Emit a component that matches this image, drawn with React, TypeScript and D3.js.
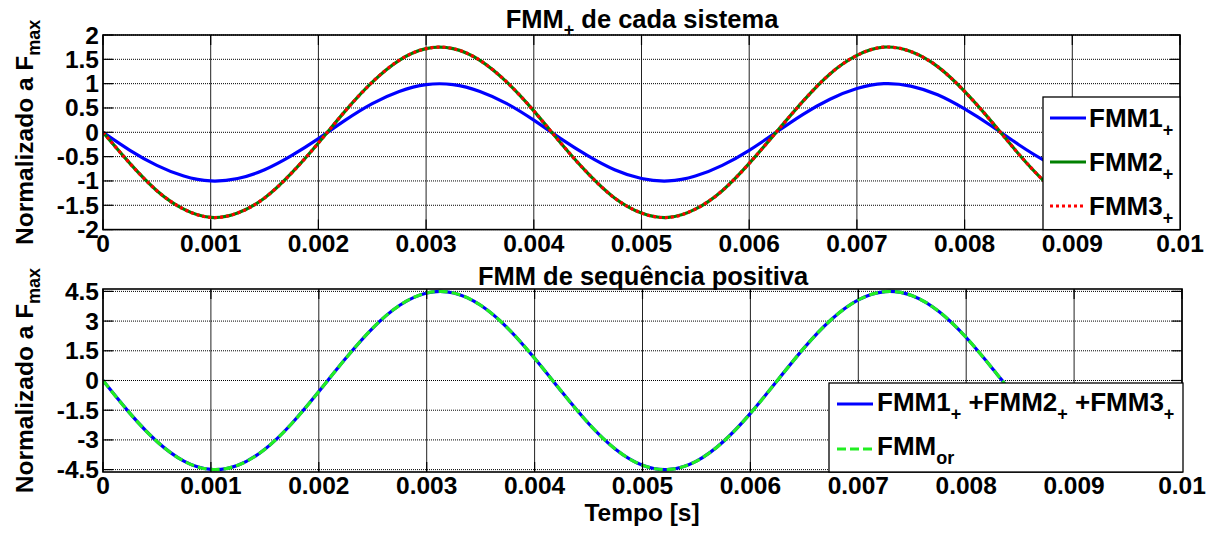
import React from "react";
import * as d3 from "d3";

// Sample instants (ms) and the normalised MMF waveforms
const TIME_MS = [0, 0.25, 0.5, 0.75, 1, 1.25, 1.5, 1.75, 2, 2.25, 2.5, 2.75, 3, 3.25, 3.5, 3.75, 4, 4.25, 4.5, 4.75, 5, 5.25, 5.5, 5.75, 6, 6.25, 6.5, 6.75, 7, 7.25, 7.5, 7.75, 8, 8.25, 8.5, 8.75, 9, 9.25, 9.5, 9.75, 10];
const FMM1 = [0, -0.37, -0.68, -0.9, -1.0, -0.95, -0.77, -0.48, -0.13, 0.25, 0.59, 0.84, 0.98, 0.98, 0.84, 0.59, 0.25, -0.13, -0.48, -0.77, -0.95, -1.0, -0.9, -0.68, -0.37, 0, 0.37, 0.68, 0.9, 1.0, 0.95, 0.77, 0.48, 0.13, -0.25, -0.59, -0.84, -0.98, -0.98, -0.84, -0.59];
const FMM2 = [0, -0.64, -1.2, -1.58, -1.75, -1.66, -1.35, -0.84, -0.22, 0.44, 1.03, 1.48, 1.72, 1.72, 1.48, 1.03, 0.44, -0.22, -0.84, -1.35, -1.66, -1.75, -1.58, -1.2, -0.64, 0, 0.64, 1.2, 1.58, 1.75, 1.66, 1.35, 0.84, 0.22, -0.44, -1.03, -1.48, -1.72, -1.72, -1.48, -1.03];
const FMM3 = [0, -0.64, -1.2, -1.58, -1.75, -1.66, -1.35, -0.84, -0.22, 0.44, 1.03, 1.48, 1.72, 1.72, 1.48, 1.03, 0.44, -0.22, -0.84, -1.35, -1.66, -1.75, -1.58, -1.2, -0.64, 0, 0.64, 1.2, 1.58, 1.75, 1.66, 1.35, 0.84, 0.22, -0.44, -1.03, -1.48, -1.72, -1.72, -1.48, -1.03];
const FMM_SUM = [0, -1.66, -3.08, -4.07, -4.49, -4.28, -3.47, -2.17, -0.56, 1.12, 2.65, 3.8, 4.42, 4.42, 3.8, 2.65, 1.12, -0.56, -2.17, -3.47, -4.28, -4.49, -4.07, -3.08, -1.66, 0, 1.66, 3.08, 4.07, 4.49, 4.28, 3.47, 2.17, 0.56, -1.12, -2.65, -3.8, -4.42, -4.42, -3.8, -2.65];
const FMM_OR = [0, -1.66, -3.08, -4.07, -4.49, -4.28, -3.47, -2.17, -0.56, 1.12, 2.65, 3.8, 4.42, 4.42, 3.8, 2.65, 1.12, -0.56, -2.17, -3.47, -4.28, -4.49, -4.07, -3.08, -1.66, 0, 1.66, 3.08, 4.07, 4.49, 4.28, 3.47, 2.17, 0.56, -1.12, -2.65, -3.8, -4.42, -4.42, -3.8, -2.65];

// Axis ticks
const X_TICKS = [0, 0.001, 0.002, 0.003, 0.004, 0.005, 0.006, 0.007, 0.008, 0.009, 0.01];
const X_LABELS = ["0", "0.001", "0.002", "0.003", "0.004", "0.005", "0.006", "0.007", "0.008", "0.009", "0.01"];
const Y_TICKS_TOP = [2, 1.5, 1, 0.5, 0, -0.5, -1, -1.5, -2];
const Y_LABELS_TOP = ["2", "1.5", "1", "0.5", "0", "-0.5", "-1", "-1.5", "-2"];
const Y_TICKS_BOT = [4.5, 3, 1.5, 0, -1.5, -3, -4.5];
const Y_LABELS_BOT = ["4.5", "3", "1.5", "0", "-1.5", "-3", "-4.5"];

const FONT = "'Liberation Sans', Arial, Helvetica, sans-serif";
const FS_TICK = 24.5;
const FS_LABEL = 24.5;
const FS_TITLE = 25.5;
const FS_LEG = 26;
const SUB = 18;

type Series = { values: number[]; color: string; width: number; dash?: string };

function Panel(props: {
  id: string;
  box: { x0: number; x1: number; y0: number; y1: number };
  yDomain: [number, number];
  yTicks: number[];
  yLabels: string[];
  series: Series[];
  children?: React.ReactNode;
}) {
  const { id, box, yDomain, yTicks, yLabels, series } = props;
  const x = d3.scaleLinear().domain([0, 0.01]).range([box.x0, box.x1]);
  const y = d3.scaleLinear().domain(yDomain).range([box.y1, box.y0]);
  const line = d3
    .line<number>()
    .x((_, i) => x(TIME_MS[i] / 1000))
    .y((v) => y(v))
    .curve(d3.curveNatural);
  const tl = 10;
  return (
    <g>
      <defs>
        <clipPath id={id}>
          <rect x={box.x0} y={box.y0} width={box.x1 - box.x0} height={box.y1 - box.y0} />
        </clipPath>
      </defs>
      <rect x={box.x0} y={box.y0} width={box.x1 - box.x0} height={box.y1 - box.y0} fill="#fff" />
      {/* grid */}
      {X_TICKS.map((t) => (
        <line key={"gx" + t} x1={x(t)} x2={x(t)} y1={box.y0} y2={box.y1} stroke="#222" strokeWidth={1} />
      ))}
      {yTicks.map((t) => (
        <line key={"gy" + t} x1={box.x0} x2={box.x1} y1={y(t)} y2={y(t)} stroke="#000" strokeWidth={1} strokeDasharray="1,1" />
      ))}
      {/* curves */}
      <g clipPath={`url(#${id})`}>
        {series.map((s, i) => (
          <path
            key={i}
            d={line(s.values) || ""}
            fill="none"
            stroke={s.color}
            strokeWidth={s.width}
            strokeDasharray={s.dash}
          />
        ))}
      </g>
      {/* ticks */}
      {X_TICKS.map((t) => (
        <g key={"tx" + t}>
          <line x1={x(t)} x2={x(t)} y1={box.y1} y2={box.y1 - tl} stroke="#000" strokeWidth={1.2} />
          <line x1={x(t)} x2={x(t)} y1={box.y0} y2={box.y0 + tl} stroke="#000" strokeWidth={1.2} />
        </g>
      ))}
      {yTicks.map((t) => (
        <g key={"ty" + t}>
          <line x1={box.x0} x2={box.x0 + tl} y1={y(t)} y2={y(t)} stroke="#000" strokeWidth={1.2} />
          <line x1={box.x1} x2={box.x1 - tl} y1={y(t)} y2={y(t)} stroke="#000" strokeWidth={1.2} />
        </g>
      ))}
      <rect x={box.x0} y={box.y0} width={box.x1 - box.x0} height={box.y1 - box.y0} fill="none" stroke="#000" strokeWidth={1.6} />
      {/* tick labels */}
      {X_TICKS.map((t, i) => (
        <text key={"lx" + t} x={x(t)} y={box.y1 + 22} textAnchor="middle" fontFamily={FONT} fontWeight="bold" fontSize={FS_TICK}>
          {X_LABELS[i]}
        </text>
      ))}
      {yTicks.map((t, i) => (
        <text key={"ly" + t} x={box.x0 - 4} y={y(t) + 8.5} textAnchor="end" fontFamily={FONT} fontWeight="bold" fontSize={FS_TICK}>
          {yLabels[i]}
        </text>
      ))}
      {/* y label */}
      <text
        transform={`translate(33,${(box.y0 + box.y1) / 2}) rotate(-90)`}
        textAnchor="middle"
        fontFamily={FONT}
        fontWeight="bold"
        fontSize={FS_LABEL}
      >
        Normalizado a F
        <tspan fontSize={SUB} dy={7}>max</tspan>
      </text>
      {props.children}
    </g>
  );
}

export default function App() {
  const top = { x0: 103, x1: 1180, y0: 35, y1: 229.6 };
  const bot = { x0: 103, x1: 1182, y0: 289, y1: 472 };
  const blue = "#0000ff";
  const dgreen = "#008000";
  const red = "#ff0000";
  const lgreen = "#22ee22";
  return (
    <svg
      width={1215}
      height={533}
      style={{ position: "absolute", left: 0, top: 0, background: "#fff" }}
    >
      <rect width={1215} height={533} fill="#fff" />
      <Panel
        id="clipTop"
        box={top}
        yDomain={[-2, 2]}
        yTicks={Y_TICKS_TOP}
        yLabels={Y_LABELS_TOP}
        series={[
          { values: FMM1, color: blue, width: 3.2 },
          { values: FMM2, color: dgreen, width: 3.2 },
          { values: FMM3, color: red, width: 3.2, dash: "3,3" },
        ]}
      >
        {/* legend */}
        <rect x={1043} y={97} width={1180 - 1043} height={229.6 - 97} fill="#fff" stroke="#000" strokeWidth={1.3} />
        {[
          { label: "FMM1", color: blue, dash: undefined, cy: 118 },
          { label: "FMM2", color: dgreen, dash: undefined, cy: 162 },
          { label: "FMM3", color: red, dash: "3,3", cy: 206 },
        ].map((e) => (
          <g key={e.label}>
            <line x1={1050} x2={1086} y1={e.cy} y2={e.cy} stroke={e.color} strokeWidth={3.2} strokeDasharray={e.dash} />
            <text x={1089} y={e.cy + 8.5} fontFamily={FONT} fontWeight="bold" fontSize={FS_LEG}>
              {e.label}
              <tspan fontSize={SUB} dy={9}>+</tspan>
            </text>
          </g>
        ))}
      </Panel>
      <Panel
        id="clipBot"
        box={bot}
        yDomain={[-4.62, 4.62]}
        yTicks={Y_TICKS_BOT}
        yLabels={Y_LABELS_BOT}
        series={[
          { values: FMM_SUM, color: blue, width: 3.2 },
          { values: FMM_OR, color: lgreen, width: 3.2, dash: "9,4" },
        ]}
      >
        <rect x={829} y={383} width={1183 - 829} height={472 - 383} fill="#fff" stroke="#000" strokeWidth={1.3} />
        <line x1={837} x2={873} y1={404} y2={404} stroke={blue} strokeWidth={3.2} />
        <text x={877} y={410.5} fontFamily={FONT} fontWeight="bold" fontSize={FS_LEG}>
          FMM1<tspan fontSize={SUB} dy={9}>+</tspan>
          <tspan dy={-9}> +FMM2</tspan>
          <tspan fontSize={SUB} dy={9}>+</tspan>
          <tspan dy={-9}> +FMM3</tspan>
          <tspan fontSize={SUB} dy={9}>+</tspan>
        </text>
        <line x1={837} x2={873} y1={449} y2={449} stroke={lgreen} strokeWidth={3.2} strokeDasharray="9,4" />
        <text x={877} y={455} fontFamily={FONT} fontWeight="bold" fontSize={FS_LEG}>
          FMM<tspan fontSize={SUB} dy={9}>or</tspan>
        </text>
      </Panel>
      {/* titles */}
      <text x={642} y={28} textAnchor="middle" fontFamily={FONT} fontWeight="bold" fontSize={FS_TITLE}>
        FMM<tspan fontSize={SUB} dy={8}>+</tspan>
        <tspan dy={-8}> de cada sistema</tspan>
      </text>
      <text x={643} y={285} textAnchor="middle" fontFamily={FONT} fontWeight="bold" fontSize={FS_TITLE}>
        FMM de sequência positiva
      </text>
      <text x={642} y={521} textAnchor="middle" fontFamily={FONT} fontWeight="bold" fontSize={FS_LABEL}>
        Tempo [s]
      </text>
    </svg>
  );
}
